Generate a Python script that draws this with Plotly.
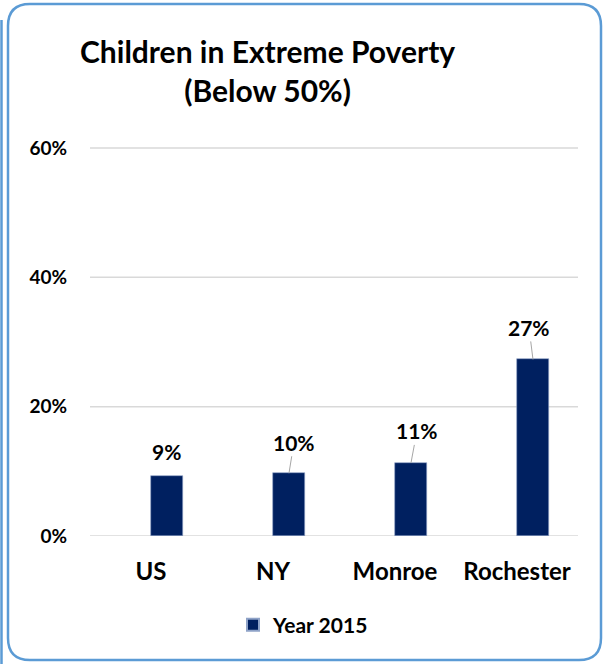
import plotly.graph_objects as go

categories = ["US", "NY", "Monroe", "Rochester"]
values = [0.093, 0.097, 0.113, 0.273]
labels = ["9%", "10%", "11%", "27%"]
series_name = "Year 2015"
y_ticks = [0, 0.2, 0.4, 0.6]
y_tick_text = ["0%", "20%", "40%", "60%"]
title_lines = ["Children in Extreme Poverty", "(Below 50%)"]

W, H = 605, 664
L, R, T, B = 90, 578, 146, 536  # plot area in pixels
Y_MAX = 0.603

def px(x):
    return (x - L) / (R - L)

def py(y):
    return (B - y) / (B - T)

NAVY = "#002060"
FONT = "Lato"
GRID = "#D9D9D9"

fig = go.Figure()
fig.add_trace(go.Bar(
    x=list(range(len(categories))), y=values, name=f"<b>{series_name}</b>",
    marker=dict(color=NAVY, line=dict(color="#8FA3C8", width=0.6)),
    width=0.262, offset=0.0, showlegend=True,
))

# data labels (with small leader lines for some)
lead = [False, True, True, True]
ax_off = [0, 5, 6, -4]
ay_off = [-24, -31, -32, -32]
for i, (v, t) in enumerate(zip(values, labels)):
    xc = i + 0.131
    if lead[i]:
        fig.add_annotation(x=xc, y=v, text=f"<b>{t}</b>", showarrow=True,
                           arrowhead=0, arrowwidth=1, arrowcolor="#A6A6A6",
                           ax=ax_off[i], ay=ay_off[i], standoff=0,
                           font=dict(family=FONT, size=21, color="black"))
    else:
        fig.add_annotation(x=xc, y=v, text=f"<b>{t}</b>", showarrow=False,
                           yshift=-ay_off[i], font=dict(family=FONT, size=21, color="black"))

# title
fig.add_annotation(xref="paper", yref="paper", x=px(267), y=py(70),
                   xanchor="center", yanchor="middle", showarrow=False,
                   text="<b>" + "<br>".join(title_lines) + "</b>",
                   font=dict(family=FONT, size=30, color="black"))

# explicit gridlines (so the top one is always drawn)
for t in y_ticks:
    fig.add_shape(type="line", xref="paper", yref="y", x0=0, x1=1, y0=t, y1=t,
                  line=dict(color=GRID, width=1.5), layer="below")

# border frame (rounded)
x0, x1, y0, y1, r = 8, 601, 4, 660, 22
path = (f"M {px(x0)} {py(y0 + r)} Q {px(x0)} {py(y0)} {px(x0 + r)} {py(y0)} "
        f"L {px(x1 - r)} {py(y0)} Q {px(x1)} {py(y0)} {px(x1)} {py(y0 + r)} "
        f"L {px(x1)} {py(y1 - r)} Q {px(x1)} {py(y1)} {px(x1 - r)} {py(y1)} "
        f"L {px(x0 + r)} {py(y1)} Q {px(x0)} {py(y1)} {px(x0)} {py(y1 - r)} Z")
fig.add_shape(type="path", path=path, xref="paper", yref="paper",
              line=dict(color="#5B9BD5", width=2.5), layer="above")
fig.add_shape(type="line", xref="paper", yref="paper",
              x0=px(1.5), x1=px(1.5), y0=py(20), y1=py(664),
              line=dict(color="#5B9BD5", width=2.5))

fig.update_layout(
    width=W, height=H,
    margin=dict(l=L, r=W - R, t=T, b=H - B, autoexpand=False),
    paper_bgcolor="white", plot_bgcolor="white",
    font=dict(family=FONT, color="black"),
    bargap=0.0,
    showlegend=True,
    legend=dict(orientation="h", x=px(233), xanchor="left", y=py(625), yanchor="middle",
                font=dict(family=FONT, size=21, color="black"),
                itemsizing="constant"),
    xaxis=dict(tickmode="array", tickvals=list(range(len(categories))),
               ticktext=[f"<b>{c}</b>" for c in categories],
               range=[-0.5, len(categories) - 0.5],
               showgrid=False, zeroline=False, showline=False,
               ticks="", ticklabelstandoff=19,
               tickfont=dict(family=FONT, size=24, color="black")),
    yaxis=dict(tickmode="array", tickvals=y_ticks,
               ticktext=[f"<b>{t}</b>" for t in y_tick_text],
               range=[0, Y_MAX], showgrid=False, zeroline=False,
               showline=False, ticks="", ticklabelstandoff=22,
               tickfont=dict(family=FONT, size=19, color="black")),
)

fig.write_html("out.html", config={"displayModeBar": False},
               post_script="document.body.style.margin='0px';")
